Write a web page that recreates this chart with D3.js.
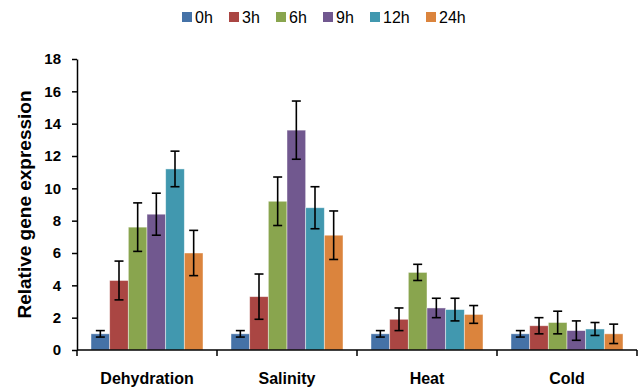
<!DOCTYPE html>
<html>
<head>
<meta charset="utf-8">
<script src="https://cdn.jsdelivr.net/npm/d3@7"></script>
<style>
  html, body { margin: 0; padding: 0; background: #fff; }
  svg { display: block; }
</style>
</head>
<body>
<svg id="chart" width="640" height="392"></svg>
<script>
// Stress treatments and sampling time points
const categories = ["Dehydration", "Salinity", "Heat", "Cold"];
const timePoints = ["0h", "3h", "6h", "9h", "12h", "24h"];
const seriesColors = ["#4572A7", "#AA4643", "#89A54E", "#71588F", "#4198AF", "#DB843D"];

// Mean relative expression per time point (one array per treatment)
const dehydrationValues = [1.0, 4.3, 7.6, 8.4, 11.2, 6.0];
const salinityValues    = [1.0, 3.3, 9.2, 13.6, 8.8, 7.1];
const heatValues        = [1.0, 1.9, 4.8, 2.6, 2.5, 2.2];
const coldValues        = [1.0, 1.5, 1.7, 1.2, 1.3, 1.0];

// Standard deviations
const dehydrationErrors = [0.2, 1.2, 1.5, 1.3, 1.1, 1.4];
const salinityErrors    = [0.2, 1.4, 1.5, 1.8, 1.3, 1.5];
const heatErrors        = [0.2, 0.7, 0.5, 0.6, 0.7, 0.55];
const coldErrors        = [0.2, 0.5, 0.7, 0.6, 0.4, 0.6];

const yTicks = [0, 2, 4, 6, 8, 10, 12, 14, 16, 18];

const values = [dehydrationValues, salinityValues, heatValues, coldValues];
const errors = [dehydrationErrors, salinityErrors, heatErrors, coldErrors];

const rows = [];
categories.forEach((c, ci) => {
  timePoints.forEach((t, ti) => {
    rows.push({ category: c, time: t, value: values[ci][ti], err: errors[ci][ti] });
  });
});

const svg = d3.select("#chart");
const margin = { left: 77, right: 3, top: 59, bottom: 42 };
const width = 640 - margin.left - margin.right;
const height = 392 - margin.top - margin.bottom;

const g = svg.append("g").attr("transform", `translate(${margin.left},${margin.top})`);

const x0 = d3.scaleBand().domain(categories).range([0, width]).paddingInner(0.2).paddingOuter(0.1);
const x1 = d3.scaleBand().domain(timePoints).range([0, x0.bandwidth()]).padding(0);
const y = d3.scaleLinear().domain([0, 18]).range([height, 0]);
const color = d3.scaleOrdinal().domain(timePoints).range(seriesColors);

const labelFont = "'Liberation Sans', Arial, sans-serif";

// Bars
g.append("g").selectAll("rect").data(rows).join("rect")
  .attr("x", d => x0(d.category) + x1(d.time))
  .attr("y", d => y(d.value))
  .attr("width", x1.bandwidth())
  .attr("height", d => y(0) - y(d.value))
  .attr("fill", d => color(d.time))
  .attr("stroke", "#ffffff")
  .attr("stroke-opacity", 0.55)
  .attr("stroke-width", 0.8);

// Error bars
const eb = g.append("g").attr("stroke", "#000").attr("stroke-width", 1.6);
rows.forEach(d => {
  const cx = x0(d.category) + x1(d.time) + x1.bandwidth() / 2;
  const top = y(d.value + d.err), bot = y(d.value - d.err);
  eb.append("line").attr("x1", cx).attr("x2", cx).attr("y1", top).attr("y2", bot);
  eb.append("line").attr("x1", cx - 4.5).attr("x2", cx + 4.5).attr("y1", top).attr("y2", top);
  eb.append("line").attr("x1", cx - 4.5).attr("x2", cx + 4.5).attr("y1", bot).attr("y2", bot);
});

// Y axis
const yAxis = g.append("g")
  .call(d3.axisLeft(y).tickValues(yTicks).tickSize(5).tickPadding(11).tickSizeOuter(0));
yAxis.select(".domain").attr("stroke", "#000").attr("stroke-width", 1.5);
yAxis.selectAll(".tick line").attr("stroke", "#000").attr("stroke-width", 1.5);
yAxis.selectAll(".tick text")
  .attr("fill", "#000")
  .style("font-family", labelFont)
  .style("font-weight", "bold")
  .style("font-size", "15px");

// X axis with boundary ticks between categories
const xAxisG = g.append("g").attr("transform", `translate(0,${height})`);
xAxisG.append("line").attr("x1", 0).attr("x2", width).attr("y1", 0).attr("y2", 0)
  .attr("stroke", "#000").attr("stroke-width", 1.5);
const step = x0.step();
const boundaries = d3.range(categories.length + 1).map(i => i * step);
xAxisG.selectAll("line.bound").data(boundaries).join("line")
  .attr("class", "bound")
  .attr("x1", d => d).attr("x2", d => d)
  .attr("y1", 0).attr("y2", 6)
  .attr("stroke", "#000").attr("stroke-width", 1.5);
xAxisG.selectAll("text").data(categories).join("text")
  .attr("x", d => x0(d) + x0.bandwidth() / 2)
  .attr("y", 34)
  .attr("text-anchor", "middle")
  .style("font-family", labelFont)
  .style("font-weight", "bold")
  .style("font-size", "16px")
  .text(d => d);

// Y axis title
svg.append("text")
  .attr("transform", `translate(31,${margin.top + height / 2}) rotate(-90)`)
  .attr("text-anchor", "middle")
  .style("font-family", labelFont)
  .style("font-weight", "bold")
  .style("font-size", "19px")
  .text("Relative gene expression");

// Legend
const legendX = [182, 229, 276, 323, 370, 426];
const legend = svg.append("g");
timePoints.forEach((t, i) => {
  const item = legend.append("g").attr("transform", `translate(${legendX[i]},0)`);
  item.append("rect").attr("width", 10).attr("height", 10).attr("y", 12).attr("fill", color(t));
  item.append("text").attr("x", 13).attr("y", 23)
    .style("font-family", labelFont)
    .style("font-size", "16px")
    .text(t);
});
</script>
</body>
</html>
